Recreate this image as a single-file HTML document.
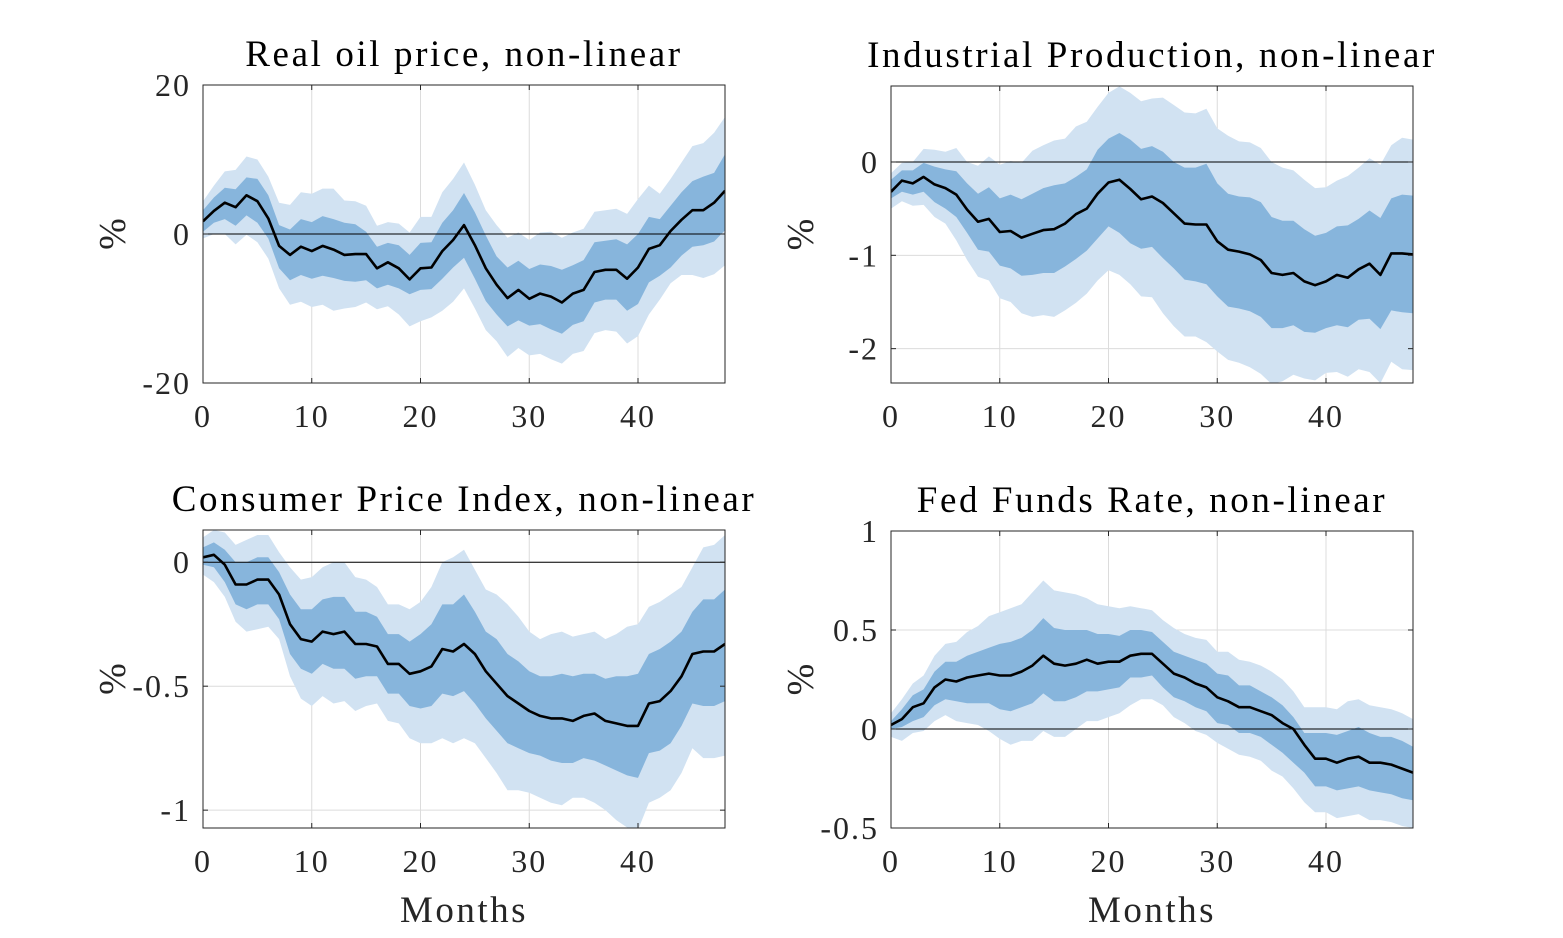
<!DOCTYPE html>
<html><head><meta charset="utf-8">
<style>
html,body{margin:0;padding:0;background:#fff;}
svg{display:block;font-family:"Liberation Serif",serif;}
</style></head>
<body>
<svg id="fig" width="1563" height="938" viewBox="0 0 1563 938" xmlns="http://www.w3.org/2000/svg"></svg>
<script>
const months = Array.from({length:49},(_,i)=>i);
// Panel 1: Real oil price
const oilMed=[1.7,3.1,4.2,3.6,5.2,4.4,2.1,-1.6,-2.8,-1.7,-2.3,-1.6,-2.1,-2.8,-2.7,-2.7,-4.6,-3.8,-4.6,-6.1,-4.6,-4.5,-2.3,-0.8,1.2,-1.5,-4.6,-6.8,-8.6,-7.5,-8.7,-8.0,-8.4,-9.2,-8.0,-7.5,-5.1,-4.8,-4.8,-6.0,-4.5,-2.0,-1.5,0.4,1.9,3.2,3.2,4.2,5.8];
const oilInUp=[3.2,4.9,6.2,6.0,7.6,7.4,5.2,1.2,0.6,2.0,1.6,2.4,2.0,1.5,1.3,0.3,-1.7,-1.2,-1.5,-2.8,-1.2,-1.1,1.5,3.2,5.5,2.9,-0.2,-3.0,-4.5,-3.6,-4.7,-4.1,-4.3,-4.8,-4.2,-3.5,-1.1,-0.9,-0.7,-1.4,0.0,2.3,2.0,3.8,5.6,7.1,7.7,8.2,10.7];
const oilInLo=[0.3,1.5,2.0,1.1,2.5,1.5,-0.6,-4.6,-6.2,-5.5,-6.0,-5.6,-5.9,-6.3,-6.4,-6.2,-7.3,-6.8,-7.3,-8.1,-7.5,-7.4,-6.0,-4.5,-3.2,-6.0,-9.0,-10.8,-12.4,-11.6,-12.3,-12.1,-12.8,-13.4,-12.2,-11.7,-9.2,-8.8,-8.8,-10.3,-9.4,-6.5,-5.6,-4.5,-2.9,-1.7,-1.5,-1.0,0.5];
const oilOutUp=[4.4,6.5,8.4,8.6,10.4,10.0,7.7,4.2,3.9,5.6,5.4,6.1,6.1,4.5,4.4,3.8,1.1,1.6,1.4,0.2,2.3,2.3,5.6,7.4,9.6,6.6,3.2,1.2,-0.5,0.2,-0.8,0.2,0.3,-0.5,0.2,0.7,3.0,3.2,3.4,2.7,4.7,6.5,5.4,7.4,9.6,11.8,12.2,13.6,15.7];
const oilOutLo=[-0.6,0.0,0.0,-1.4,-0.1,-1.1,-3.3,-7.3,-9.5,-9.1,-9.8,-9.5,-10.3,-10.0,-9.8,-9.2,-10.1,-9.7,-10.8,-12.4,-11.7,-11.2,-10.3,-9.1,-7.3,-10.0,-12.9,-14.4,-16.5,-15.3,-16.3,-16.1,-16.8,-17.4,-16.1,-15.7,-13.3,-12.9,-13.1,-14.7,-13.7,-10.8,-8.8,-6.6,-5.5,-5.5,-5.9,-5.4,-4.2];
// Panel 2: Industrial production
const ipMed=[-0.32,-0.20,-0.23,-0.16,-0.24,-0.28,-0.35,-0.51,-0.64,-0.61,-0.75,-0.74,-0.81,-0.77,-0.73,-0.72,-0.66,-0.56,-0.50,-0.34,-0.22,-0.19,-0.29,-0.40,-0.37,-0.44,-0.55,-0.66,-0.67,-0.67,-0.85,-0.94,-0.96,-0.99,-1.05,-1.19,-1.21,-1.19,-1.28,-1.32,-1.28,-1.21,-1.24,-1.15,-1.09,-1.21,-0.98,-0.98,-0.99];
const ipInUp=[-0.19,-0.09,-0.09,-0.01,-0.05,-0.08,-0.10,-0.23,-0.34,-0.27,-0.39,-0.35,-0.40,-0.34,-0.28,-0.25,-0.23,-0.16,-0.08,0.13,0.25,0.31,0.24,0.14,0.17,0.11,0.00,-0.06,-0.06,-0.02,-0.23,-0.34,-0.37,-0.38,-0.43,-0.59,-0.63,-0.63,-0.72,-0.79,-0.76,-0.69,-0.68,-0.61,-0.52,-0.60,-0.39,-0.35,-0.36];
const ipInLo=[-0.39,-0.32,-0.35,-0.32,-0.43,-0.50,-0.59,-0.76,-0.94,-0.96,-1.11,-1.14,-1.22,-1.21,-1.19,-1.19,-1.12,-1.04,-0.95,-0.82,-0.69,-0.76,-0.87,-0.93,-0.91,-1.03,-1.14,-1.26,-1.28,-1.31,-1.44,-1.55,-1.57,-1.60,-1.66,-1.78,-1.78,-1.75,-1.82,-1.83,-1.78,-1.75,-1.77,-1.69,-1.68,-1.79,-1.59,-1.61,-1.62];
const ipOutUp=[-0.12,-0.01,0.00,0.14,0.13,0.11,0.15,0.00,-0.04,0.06,-0.03,0.01,-0.01,0.12,0.18,0.23,0.25,0.38,0.43,0.59,0.74,0.81,0.74,0.65,0.68,0.69,0.61,0.53,0.52,0.57,0.36,0.28,0.22,0.21,0.15,0.00,-0.06,-0.09,-0.19,-0.28,-0.27,-0.20,-0.15,-0.06,0.04,-0.03,0.18,0.26,0.24];
const ipOutLo=[-0.50,-0.42,-0.47,-0.46,-0.59,-0.66,-0.84,-1.05,-1.23,-1.27,-1.46,-1.50,-1.62,-1.66,-1.64,-1.66,-1.59,-1.51,-1.41,-1.27,-1.16,-1.21,-1.31,-1.44,-1.45,-1.62,-1.76,-1.87,-1.87,-1.93,-2.03,-2.12,-2.15,-2.20,-2.27,-2.38,-2.35,-2.28,-2.32,-2.34,-2.26,-2.25,-2.30,-2.22,-2.25,-2.37,-2.14,-2.22,-2.23];
// Panel 3: CPI
const cpiMed=[0.02,0.03,-0.01,-0.09,-0.09,-0.07,-0.07,-0.13,-0.25,-0.31,-0.32,-0.28,-0.29,-0.28,-0.33,-0.33,-0.34,-0.41,-0.41,-0.45,-0.44,-0.42,-0.35,-0.36,-0.33,-0.37,-0.44,-0.49,-0.54,-0.57,-0.60,-0.62,-0.63,-0.63,-0.64,-0.62,-0.61,-0.64,-0.65,-0.66,-0.66,-0.57,-0.56,-0.52,-0.46,-0.37,-0.36,-0.36,-0.33];
const cpiInUp=[0.06,0.08,0.05,0.00,0.00,0.02,0.02,-0.04,-0.13,-0.19,-0.19,-0.15,-0.14,-0.14,-0.20,-0.20,-0.22,-0.29,-0.29,-0.32,-0.29,-0.25,-0.17,-0.17,-0.13,-0.20,-0.28,-0.31,-0.37,-0.40,-0.44,-0.46,-0.46,-0.45,-0.46,-0.45,-0.45,-0.47,-0.46,-0.46,-0.45,-0.37,-0.35,-0.32,-0.28,-0.20,-0.15,-0.15,-0.11];
const cpiInLo=[-0.01,-0.02,-0.08,-0.17,-0.19,-0.17,-0.17,-0.23,-0.37,-0.43,-0.45,-0.41,-0.43,-0.43,-0.47,-0.46,-0.46,-0.53,-0.53,-0.58,-0.59,-0.58,-0.53,-0.54,-0.52,-0.57,-0.63,-0.68,-0.73,-0.75,-0.77,-0.78,-0.80,-0.81,-0.81,-0.79,-0.80,-0.82,-0.84,-0.86,-0.87,-0.77,-0.76,-0.73,-0.66,-0.57,-0.58,-0.58,-0.56];
const cpiOutUp=[0.10,0.13,0.12,0.07,0.09,0.11,0.11,0.04,-0.02,-0.07,-0.06,-0.02,0.00,0.00,-0.06,-0.07,-0.10,-0.17,-0.17,-0.19,-0.16,-0.10,0.00,0.02,0.05,-0.03,-0.11,-0.13,-0.17,-0.22,-0.28,-0.31,-0.29,-0.28,-0.30,-0.29,-0.28,-0.31,-0.29,-0.26,-0.25,-0.18,-0.16,-0.13,-0.10,-0.02,0.06,0.07,0.11];
const cpiOutLo=[-0.05,-0.08,-0.14,-0.24,-0.28,-0.27,-0.26,-0.31,-0.46,-0.55,-0.58,-0.54,-0.57,-0.56,-0.60,-0.58,-0.57,-0.64,-0.65,-0.71,-0.73,-0.73,-0.71,-0.73,-0.71,-0.73,-0.79,-0.85,-0.92,-0.92,-0.93,-0.95,-0.97,-0.98,-0.95,-0.95,-0.97,-1.00,-1.04,-1.07,-1.08,-0.97,-0.95,-0.92,-0.85,-0.75,-0.79,-0.79,-0.78];
// Panel 4: Fed funds rate
const ffrMed=[0.02,0.05,0.11,0.13,0.21,0.25,0.24,0.26,0.27,0.28,0.27,0.27,0.29,0.32,0.37,0.33,0.32,0.33,0.35,0.33,0.34,0.34,0.37,0.38,0.38,0.33,0.28,0.26,0.23,0.21,0.16,0.14,0.11,0.11,0.09,0.07,0.03,0.00,-0.08,-0.15,-0.15,-0.17,-0.15,-0.14,-0.17,-0.17,-0.18,-0.20,-0.22];
const ffrInUp=[0.04,0.10,0.17,0.20,0.29,0.34,0.34,0.37,0.39,0.41,0.43,0.44,0.46,0.50,0.56,0.51,0.50,0.50,0.50,0.48,0.48,0.47,0.50,0.50,0.49,0.44,0.39,0.37,0.35,0.33,0.28,0.27,0.22,0.22,0.19,0.16,0.12,0.06,-0.02,-0.02,-0.02,-0.03,-0.01,0.01,-0.02,-0.04,-0.04,-0.06,-0.09];
const ffrInLo=[0.00,0.01,0.04,0.06,0.12,0.15,0.14,0.13,0.13,0.13,0.10,0.09,0.11,0.13,0.18,0.14,0.14,0.16,0.19,0.19,0.20,0.21,0.26,0.26,0.27,0.21,0.16,0.14,0.11,0.09,0.03,0.02,-0.02,-0.02,-0.04,-0.08,-0.12,-0.17,-0.22,-0.29,-0.29,-0.31,-0.30,-0.29,-0.31,-0.32,-0.33,-0.35,-0.36];
const ffrOutUp=[0.08,0.15,0.23,0.27,0.37,0.43,0.44,0.49,0.52,0.57,0.59,0.61,0.63,0.69,0.75,0.70,0.69,0.68,0.66,0.63,0.62,0.61,0.62,0.61,0.60,0.55,0.51,0.48,0.46,0.45,0.39,0.39,0.35,0.34,0.32,0.29,0.25,0.19,0.11,0.11,0.11,0.10,0.14,0.15,0.12,0.11,0.10,0.08,0.05];
const ffrOutLo=[-0.04,-0.06,-0.02,-0.01,0.04,0.07,0.04,0.03,0.02,-0.01,-0.05,-0.08,-0.06,-0.06,-0.01,-0.04,-0.04,0.00,0.04,0.04,0.06,0.08,0.12,0.15,0.15,0.12,0.06,0.03,-0.01,-0.03,-0.07,-0.10,-0.13,-0.14,-0.16,-0.21,-0.24,-0.30,-0.37,-0.42,-0.42,-0.45,-0.44,-0.43,-0.46,-0.46,-0.47,-0.49,-0.50];

const titles=["Real oil price, non-linear","Industrial Production, non-linear","Consumer Price Index, non-linear","Fed Funds Rate, non-linear"];
const xTicks=[0,10,20,30,40];
const yTicks1=[20,0,-20], yTicks2=[0,-1,-2], yTicks3=[0,-0.5,-1], yTicks4=[1,0.5,0,-0.5];
const yTickLabels1=["20","0","-20"], yTickLabels2=["0","-1","-2"], yTickLabels3=["0","-0.5","-1"], yTickLabels4=["1","0.5","0","-0.5"];

const NS="http://www.w3.org/2000/svg";
const svg=document.getElementById('fig');
function mk(tag,attrs,parent){const e=document.createElementNS(NS,tag);for(const k in attrs)e.setAttribute(k,attrs[k]);(parent||svg).appendChild(e);return e;}

const panels=[
 {key:'oil',box:[203,85,725,383],ylim:[-20,20],yt:yTicks1,yl:yTickLabels1,med:oilMed,iu:oilInUp,il:oilInLo,ou:oilOutUp,ol:oilOutLo,title:titles[0],xlab:false},
 {key:'ip',box:[891,86,1413,383],ylim:[-2.368,0.814],yt:yTicks2,yl:yTickLabels2,med:ipMed,iu:ipInUp,il:ipInLo,ou:ipOutUp,ol:ipOutLo,title:titles[1],xlab:false},
 {key:'cpi',box:[203,530,725,828],ylim:[-1.072,0.13],yt:yTicks3,yl:yTickLabels3,med:cpiMed,iu:cpiInUp,il:cpiInLo,ou:cpiOutUp,ol:cpiOutLo,title:titles[2],xlab:true},
 {key:'ffr',box:[891,531,1413,828],ylim:[-0.5,1.0],yt:yTicks4,yl:yTickLabels4,med:ffrMed,iu:ffrInUp,il:ffrInLo,ou:ffrOutUp,ol:ffrOutLo,title:titles[3],xlab:true}
];

panels.forEach((p,pi)=>{
  const [x0,y0,x1,y1]=p.box;
  const xs=m=>x0+(m-0)/(48-0)*(x1-x0);
  const ys=v=>y1-(v-p.ylim[0])/(p.ylim[1]-p.ylim[0])*(y1-y0);
  const g=mk('g',{});
  
  
  const cp=mk('clipPath',{id:'clip'+pi},g);
  mk('rect',{x:x0,y:y0,width:x1-x0,height:y1-y0},cp);
  xTicks.forEach(t=>{const l=mk('line',{x1:xs(t),x2:xs(t),y1:y0,y2:y1,stroke:'#dcdcdc','stroke-width':1},g);
    });
  p.yt.forEach(t=>{const l=mk('line',{x1:x0,x2:x1,y1:ys(t),y2:ys(t),stroke:'#dcdcdc','stroke-width':1},g);
    });
  const band=(up,lo,col,name)=>{
    let d='M'+months.map(m=>xs(m).toFixed(1)+','+ys(up[m]).toFixed(1)).join('L');
    d+='L'+months.slice().reverse().map(m=>xs(m).toFixed(1)+','+ys(lo[m]).toFixed(1)).join('L')+'Z';
    const e=mk('path',{d:d,fill:col,stroke:'none','clip-path':'url(#clip'+pi+')'},g);
    
  };
  band(p.ou,p.ol,'#d1e2f2',p.key+'-outer-band');
  band(p.iu,p.il,'#87b5dc',p.key+'-inner-band');
  const z=mk('line',{x1:x0,x2:x1,y1:ys(0),y2:ys(0),stroke:'#000','stroke-width':1},g);
  
  const ml=mk('polyline',{points:months.map(m=>xs(m).toFixed(1)+','+ys(p.med[m]).toFixed(1)).join(' '),fill:'none',stroke:'#000','stroke-width':2.6,'stroke-linejoin':'round','clip-path':'url(#clip'+pi+')'},g);
  
  const bx=mk('rect',{x:x0,y:y0,width:x1-x0,height:y1-y0,fill:'none',stroke:'#262626','stroke-width':1},g);
  
  xTicks.forEach(t=>{
    mk('line',{x1:xs(t),x2:xs(t),y1:y1,y2:y1-5,stroke:'#262626'},g);
    mk('line',{x1:xs(t),x2:xs(t),y1:y0,y2:y0+5,stroke:'#262626'},g);
    const tx=mk('text',{x:xs(t),y:y1+44,'font-size':32,'letter-spacing':2,'text-anchor':'middle',fill:'#262626'},g);
    tx.textContent=String(t);
    
  });
  p.yt.forEach((t,i)=>{
    mk('line',{x1:x0,x2:x0+5,y1:ys(t),y2:ys(t),stroke:'#262626'},g);
    mk('line',{x1:x1,x2:x1-5,y1:ys(t),y2:ys(t),stroke:'#262626'},g);
    const ty=mk('text',{x:x0-12,y:ys(t)+11,'font-size':32,'letter-spacing':2,'text-anchor':'end',fill:'#262626'},g);
    ty.textContent=p.yl[i];
    
  });
  const tt=mk('text',{x:(x0+x1)/2,y:y0-19,'font-size':37,'letter-spacing':2.6,'text-anchor':'middle',fill:'#000'},g);
  tt.textContent=p.title;
  
  const yl=mk('text',{x:0,y:0,'font-size':38,'text-anchor':'middle',fill:'#262626',transform:'translate('+(x0-78)+','+((y0+y1)/2)+') rotate(-90)'},g);
  yl.textContent='%';
  
  if(p.xlab){
    const xl=mk('text',{x:(x0+x1)/2,y:y1+94,'font-size':37,'letter-spacing':2.5,'text-anchor':'middle',fill:'#262626'},g);
    xl.textContent='Months';
    
  }
});
</script>
</body></html>
